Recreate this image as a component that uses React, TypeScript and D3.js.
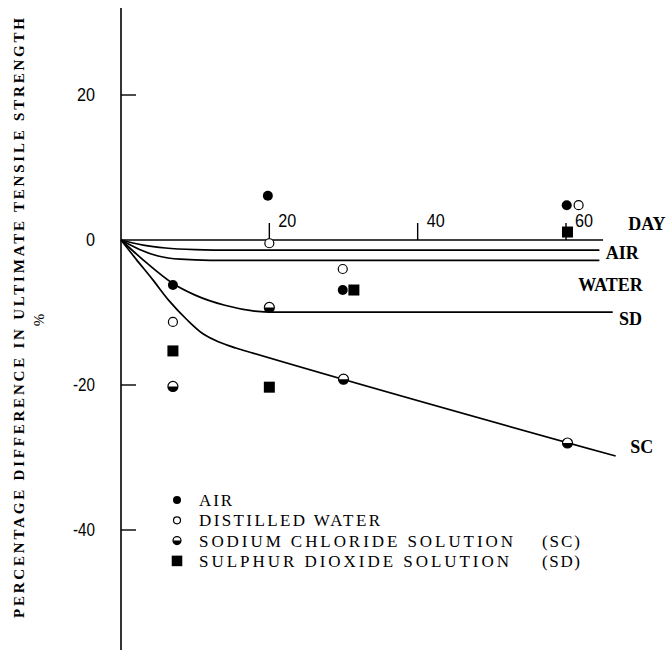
import React from "react";
import * as d3 from "d3";

// tick values
const yTicks = [20, 0, -20, -40];
const xTicks = [20, 40, 60];

// fitted curves, [day, % difference]
const dayLine: [number, number][] = [[0, 0], [65, 0]];
const airCurve: [number, number][] = [[0, 0], [3, -0.7], [6, -1.1], [10, -1.32], [15, -1.4], [64.5, -1.4]];
const waterCurve: [number, number][] = [[0, 0], [2.5, -1.3], [5, -2.2], [8, -2.65], [12, -2.8], [64.5, -2.8]];
const sdCurve: [number, number][] = [[0, 0], [3.5, -3.2], [7, -6], [10, -7.6], [14, -9], [18, -9.8], [20.5, -9.95], [66.3, -9.95]];
const scCurve: [number, number][] = [[0, 0], [2, -2.6], [4.3, -5.5], [6.5, -8.4], [8.9, -11], [11, -12.9], [13.3, -14.1], [15.5, -14.9], [17.8, -15.6], [66.7, -29.8]];

// measured points
const airPts: [number, number][] = [[7, -6.2], [19.8, 6.1], [29.9, -6.9], [60.1, 4.8]];
const waterPts: [number, number][] = [[7, -11.3], [20, -0.45], [29.9, -4], [61.7, 4.8]];
const scPts: [number, number][] = [[7, -20.2], [20, -9.3], [30, -19.2], [60.2, -28]];
const sdPts: [number, number][] = [[7, -15.3], [20, -20.3], [31.4, -6.9], [60.2, 1.1]];

const curveLabels = [
  { text: "DAY", day: 70.9, value: 2.3 },
  { text: "AIR", day: 67.6, value: -1.7 },
  { text: "WATER", day: 66, value: -6.1 },
  { text: "SD", day: 68.7, value: -10.8 },
  { text: "SC", day: 70.2, value: -28.5 },
];

const legendItems = [
  { kind: "air", text: "AIR", len: 33, tag: "" },
  { kind: "water", text: "DISTILLED WATER", len: 181, tag: "" },
  { kind: "sc", text: "SODIUM CHLORIDE SOLUTION", len: 314, tag: "(SC)" },
  { kind: "sd", text: "SULPHUR DIOXIDE SOLUTION", len: 310, tag: "(SD)" },
];

const W = 669;
const H = 657;
const serif = "'Liberation Serif', 'DejaVu Serif', 'Times New Roman', serif";
const sans = "'Liberation Sans', Arial, sans-serif";

function Marker({ kind, x, y, r = 5 }: { kind: string; x: number; y: number; r?: number }) {
  if (kind === "air") return <circle cx={x} cy={y} r={r} fill="#000" />;
  if (kind === "water") return <circle cx={x} cy={y} r={r - 0.5} fill="#fff" stroke="#000" strokeWidth={1.2} />;
  if (kind === "sc")
    return (
      <g>
        <circle cx={x} cy={y} r={r} fill="#fff" stroke="#000" strokeWidth={1.2} />
        <path d={`M${x - r},${y} A${r},${r} 0 0 0 ${x + r},${y} Z`} fill="#000" />
      </g>
    );
  const s = r * 2.2;
  return <rect x={x - s / 2} y={y - s / 2} width={s} height={s} fill="#000" />;
}

export default function App() {
  const x = d3.scaleLinear().domain([0, 60]).range([121, 566]);
  const y = d3.scaleLinear().domain([20, -40]).range([95, 530]);
  const line = d3
    .line<[number, number]>()
    .x((d) => x(d[0]))
    .y((d) => y(d[1]))
    .curve(d3.curveMonotoneX);

  const x0 = x(0);
  const y0 = y(0);

  return (
    <svg width={W} height={H} style={{ position: "absolute", left: 0, top: 0, background: "#fff" }}>
      {/* y axis */}
      <line x1={x0} x2={x0} y1={8} y2={650} stroke="#000" strokeWidth={1.6} />
      {yTicks.map((t) => (
        <g key={`yt-${t}`}>
          {t !== 0 && <line x1={x0} x2={x0 + 15} y1={y(t)} y2={y(t)} stroke="#000" strokeWidth={1.4} />}
          <text
            x={x0 - 26}
            y={y(t)}
            dy="0.36em"
            textAnchor="end"
            fontFamily={sans}
            fontSize={18}
            textLength={t < 0 ? 22 : t === 0 ? 9 : 18}
            lengthAdjust="spacingAndGlyphs"
          >
            {t < 0 ? `-${-t}` : t}
          </text>
        </g>
      ))}

      {/* x ticks */}
      {xTicks.map((t) => (
        <g key={`xt-${t}`}>
          <line x1={x(t)} x2={x(t)} y1={y0} y2={y0 - 17} stroke="#000" strokeWidth={1.4} />
          <text x={x(t) + 9} y={y0 - 13} fontFamily={sans} fontSize={18} textLength={18} lengthAdjust="spacingAndGlyphs">
            {t}
          </text>
        </g>
      ))}

      {/* curves */}
      {[dayLine, airCurve, waterCurve, sdCurve, scCurve].map((c, i) => (
        <path key={`c-${i}`} d={line(c) ?? ""} fill="none" stroke="#000" strokeWidth={1.7} />
      ))}

      {curveLabels.map((l) => (
        <text key={l.text} x={x(l.day)} y={y(l.value)} dy="0.36em" textAnchor="middle" fontFamily={serif} fontSize={18} fontWeight={600}>
          {l.text}
        </text>
      ))}

      {/* points */}
      {airPts.map((p, i) => <Marker key={`a-${i}`} kind="air" x={x(p[0])} y={y(p[1])} />)}
      {waterPts.map((p, i) => <Marker key={`w-${i}`} kind="water" x={x(p[0])} y={y(p[1])} />)}
      {scPts.map((p, i) => <Marker key={`s-${i}`} kind="sc" x={x(p[0])} y={y(p[1])} />)}
      {sdPts.map((p, i) => <Marker key={`d-${i}`} kind="sd" x={x(p[0])} y={y(p[1])} />)}

      {/* legend */}
      {legendItems.map((it, i) => {
        const ly = 500 + i * 20.3;
        return (
          <g key={it.kind}>
            <Marker kind={it.kind} x={177} y={ly} r={it.kind === "sd" ? 4.8 : 4} />
            <text x={199} y={ly} dy="0.36em" fontFamily={serif} fontSize={17} textLength={it.len} lengthAdjust="spacing">
              {it.text}
            </text>
            {it.tag && (
              <text x={542} y={ly} dy="0.36em" fontFamily={serif} fontSize={17} textLength={38} lengthAdjust="spacing">
                {it.tag}
              </text>
            )}
          </g>
        );
      })}

      {/* y title */}
      <text
        transform={`translate(24, 318) rotate(-90)`}
        textAnchor="middle"
        fontFamily={serif}
        fontSize={15}
        fontWeight={600}
        textLength={600}
        lengthAdjust="spacing"
      >
        PERCENTAGE DIFFERENCE IN ULTIMATE TENSILE STRENGTH
      </text>
      <text transform={`translate(44, 320) rotate(-90)`} textAnchor="middle" fontFamily={serif} fontSize={15}>
        %
      </text>
    </svg>
  );
}
